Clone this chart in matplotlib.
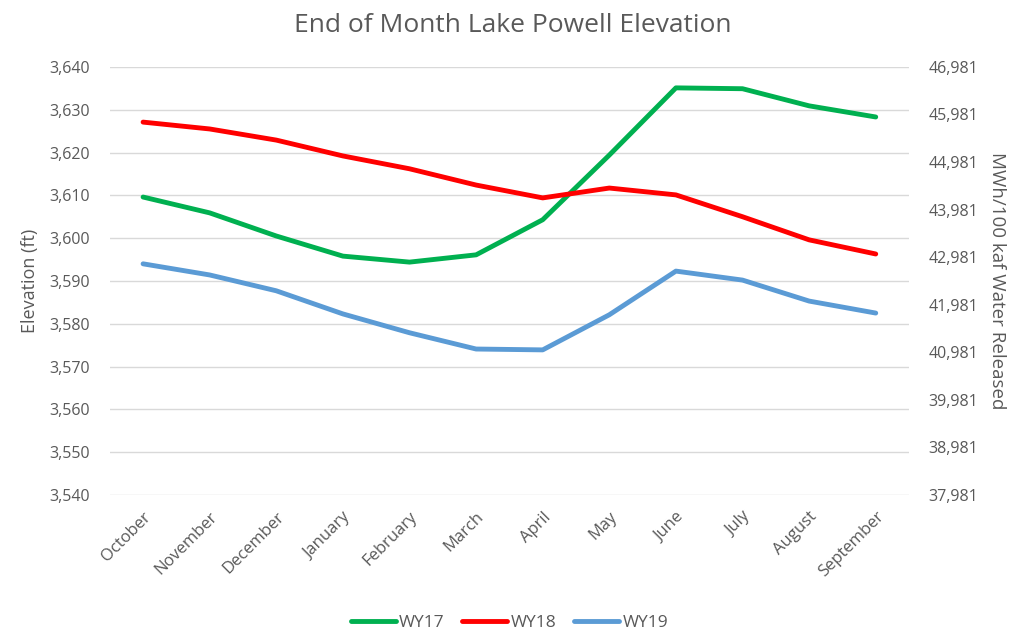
import numpy as np
import matplotlib
matplotlib.use("Agg")
import matplotlib.pyplot as plt
from matplotlib.ticker import FuncFormatter, MultipleLocator

plt.rcParams["font.family"] = ["Open Sans", "DejaVu Sans"]

months = ["October", "November", "December", "January", "February", "March",
          "April", "May", "June", "July", "August", "September"]
wy17 = [3609.6, 3605.9, 3600.5, 3595.8, 3594.4, 3596.1,
        3604.3, 3619.4, 3635.1, 3634.9, 3630.9, 3628.3]
wy18 = [3627.1, 3625.5, 3622.9, 3619.2, 3616.2, 3612.4,
        3609.4, 3611.7, 3610.1, 3605.0, 3599.6, 3596.3]
wy19 = [3594.0, 3591.4, 3587.7, 3582.3, 3577.9, 3574.1,
        3573.9, 3582.1, 3592.3, 3590.2, 3585.3, 3582.5]

grey = "#595959"

fig = plt.figure(figsize=(10.26, 6.31), dpi=100)
ax = fig.add_axes([0.107, 0.2155, 0.779, 0.6785])

x = np.arange(len(months))
ax.plot(x, wy17, color="#00b050", lw=3.5, label="WY17", solid_capstyle="round")
ax.plot(x, wy18, color="#ff0000", lw=3.5, label="WY18", solid_capstyle="round")
ax.plot(x, wy19, color="#5b9bd5", lw=3.5, label="WY19", solid_capstyle="round")

ax.set_xlim(-0.5, len(months) - 0.5)
ax.set_ylim(3540, 3640)
ax.yaxis.set_major_locator(MultipleLocator(10))
ax.yaxis.set_major_formatter(FuncFormatter(lambda v, p: f"{v:,.0f}"))
ax.grid(axis="y", color="#d9d9d9", lw=1)
ax.set_axisbelow(True)
for s in ax.spines.values():
    s.set_visible(False)
ax.tick_params(axis="both", length=0, colors=grey, labelsize=11.5)
ax.tick_params(axis="y", pad=14)
ax.set_xticks(x)
ax.set_xticklabels(months, rotation=45, ha="right", rotation_mode="anchor")
ax.tick_params(axis="x", pad=10, labelsize=12)
ax.set_ylabel("Elevation (ft)", color=grey, fontsize=13, labelpad=8)

ax2 = ax.twinx()
ax2.set_ylim(37981, 46981)
ax2.set_yticks(np.arange(37981, 46982, 1000))
ax2.yaxis.set_major_formatter(FuncFormatter(lambda v, p: f"{v:,.0f}"))
for s in ax2.spines.values():
    s.set_visible(False)
ax2.tick_params(axis="y", length=0, colors=grey, labelsize=11.5, pad=14)
ax2.set_ylabel("MWh/100 kaf Water Released", color=grey, fontsize=13.5,
               rotation=270, labelpad=20)

fig.suptitle("End of Month Lake Powell Elevation", color=grey, fontsize=19,
             x=0.5, y=0.98)

leg = ax.legend(loc="lower center", bbox_to_anchor=(0.5, -0.355), ncol=3,
                frameon=False, fontsize=12.5, handlelength=2.6,
                columnspacing=1.0, handletextpad=0.2)
for t in leg.get_texts():
    t.set_color(grey)

fig.savefig("out.png", dpi=100)
